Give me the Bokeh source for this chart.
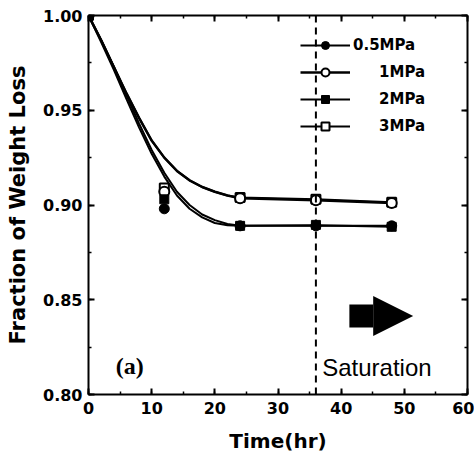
from bokeh.plotting import figure
from bokeh.models import (LinearAxis, Range1d, Span, Label, Arrow, NormalHead,
                          Legend, LegendItem, SingleIntervalTicker, NumeralTickFormatter,
                          CustomJSTickFormatter)
from bokeh.embed import file_html
from bokeh.resources import INLINE

# ---- measured data -------------------------------------------------------
time_hr = [0, 12, 24, 36, 48]
frac_05MPa = [1.000, 0.898, 0.889, 0.889, 0.889]
frac_1MPa = [1.000, 0.907, 0.9035, 0.9025, 0.901]
frac_2MPa = [1.000, 0.903, 0.889, 0.8895, 0.8885]
frac_3MPa = [1.000, 0.909, 0.904, 0.903, 0.9015]

# fitted curves
fit_time = [0, 2, 4, 6, 8, 10, 12, 14, 16, 18, 20, 22, 24, 36, 48]
fit_05MPa = [1.000, 0.986, 0.9715, 0.956, 0.941, 0.927, 0.915, 0.905, 0.898, 0.8935, 0.8905, 0.8893, 0.889, 0.889, 0.889]
fit_1MPa = [1.000, 0.987, 0.973, 0.959, 0.946, 0.934, 0.925, 0.918, 0.913, 0.9095, 0.907, 0.905, 0.9035, 0.9025, 0.901]
fit_2MPa = [1.000, 0.987, 0.973, 0.958, 0.943, 0.929, 0.917, 0.907, 0.900, 0.895, 0.892, 0.890, 0.889, 0.8893, 0.8885]
fit_3MPa = [1.000, 0.987, 0.973, 0.959, 0.946, 0.934, 0.925, 0.918, 0.913, 0.9095, 0.907, 0.905, 0.904, 0.903, 0.9015]

series_labels = ["0.5MPa", "\u00a0\u00a0\u00a0\u00a0\u00a01MPa", "\u00a0\u00a0\u00a0\u00a0\u00a02MPa", "\u00a0\u00a0\u00a0\u00a0\u00a03MPa"]

saturation_time = 36
arrow_x_start, arrow_x_end, arrow_y = 41.3, 51.4, 0.8414
saturation_text_x, saturation_text_y = 37.0, 0.8143
panel_text_x, panel_text_y = 4.3, 0.8153

# ---- figure --------------------------------------------------------------
p = figure(width=474, height=460, x_range=Range1d(0, 60), y_range=Range1d(0.80, 1.00),
           output_backend="svg", toolbar_location=None,
           min_border_left=88, min_border_right=7, min_border_top=15, min_border_bottom=66)
p.xgrid.visible = False
p.ygrid.visible = False
p.outline_line_color = None
p.background_fill_color = "white"
p.border_fill_color = "white"

BOLD = "DejaVu Sans"

def style_axis(ax, ticker, show_labels):
    ax.ticker = ticker
    ax.axis_line_width = 2
    ax.axis_line_color = "black"
    ax.major_tick_in = 6
    ax.major_tick_out = 0
    ax.minor_tick_in = 3
    ax.minor_tick_out = 0
    ax.major_tick_line_width = 2
    ax.minor_tick_line_width = 1.5
    ax.major_tick_line_color = "black"
    ax.minor_tick_line_color = "black"
    if show_labels:
        ax.major_label_text_font = BOLD
        ax.major_label_text_font_style = "bold"
        ax.major_label_text_font_size = "16px"
        ax.major_label_text_color = "black"
    else:
        ax.formatter = CustomJSTickFormatter(code="return ''")
        ax.major_label_standoff = 0

xt = SingleIntervalTicker(interval=10, num_minor_ticks=2)
yt = SingleIntervalTicker(interval=0.05, num_minor_ticks=2)

xa = p.xaxis[0]
style_axis(xa, xt, True)
xa.major_label_standoff = 7
xa.axis_label = "Time(hr)"
xa.axis_label_text_font = BOLD
xa.axis_label_text_font_style = "bold"
xa.axis_label_text_font_size = "20px"
xa.axis_label_text_color = "black"
xa.axis_label_standoff = 12

ya = p.yaxis[0]
style_axis(ya, yt, True)
ya.formatter = NumeralTickFormatter(format="0.00")
ya.major_label_standoff = 6
ya.axis_label = "Fraction of Weight Loss"
ya.axis_label_text_font = BOLD
ya.axis_label_text_font_style = "bold"
ya.axis_label_text_font_size = "21px"
ya.axis_label_text_color = "black"
ya.axis_label_standoff = 10

top = LinearAxis()
style_axis(top, SingleIntervalTicker(interval=10, num_minor_ticks=2), False)
p.add_layout(top, "above")
right = LinearAxis()
style_axis(right, SingleIntervalTicker(interval=0.05, num_minor_ticks=2), False)
p.add_layout(right, "right")

# ---- curves --------------------------------------------------------------
l3 = p.line(fit_time, fit_3MPa, line_color="black", line_width=2)
l1 = p.line(fit_time, fit_1MPa, line_color="black", line_width=2.5)
l2 = p.line(fit_time, fit_2MPa, line_color="black", line_width=2)
l05 = p.line(fit_time, fit_05MPa, line_color="black", line_width=2)

s3 = p.scatter(time_hr, frac_3MPa, marker="square", size=9, fill_color="white",
               line_color="black", line_width=2)
s1 = p.scatter(time_hr, frac_1MPa, marker="circle", size=10, fill_color="white",
               line_color="black", line_width=2)
s2 = p.scatter(time_hr, frac_2MPa, marker="square", size=9, fill_color="black",
               line_color="black", line_width=1)
s05 = p.scatter(time_hr, frac_05MPa, marker="circle", size=10, fill_color="black",
                line_color="black", line_width=1)

# ---- annotations ---------------------------------------------------------
p.add_layout(Span(location=saturation_time, dimension="height", line_color="black",
                  line_width=2, line_dash="7 5"))

p.add_layout(Arrow(end=NormalHead(size=40, fill_color="black", line_color="black", line_width=0),
                   x_start=arrow_x_start, y_start=arrow_y, x_end=arrow_x_end, y_end=arrow_y,
                   line_width=23, line_color="black", line_cap="butt"))

p.add_layout(Label(x=saturation_text_x, y=saturation_text_y, text="Saturation",
                   text_font="Liberation Sans", text_font_size="24px",
                   text_baseline="alphabetic", text_color="black"))
p.add_layout(Label(x=panel_text_x, y=panel_text_y, text="(a)",
                   text_font="Liberation Serif", text_font_style="bold", text_font_size="24px",
                   text_baseline="alphabetic", text_color="black"))

# ---- legend --------------------------------------------------------------
legend = Legend(items=[
    LegendItem(label=series_labels[0], renderers=[l05, s05]),
    LegendItem(label=series_labels[1], renderers=[l1, s1]),
    LegendItem(label=series_labels[2], renderers=[l2, s2]),
    LegendItem(label=series_labels[3], renderers=[l3, s3]),
], location=(212, 258), padding=0, margin=0, border_line_color=None,
   background_fill_alpha=0, glyph_width=50, glyph_height=20, label_height=20,
   spacing=7, label_standoff=3, label_text_font=BOLD, label_text_font_style="bold",
   label_text_font_size="15px", label_text_color="black")
p.add_layout(legend, "center")

open("out.html", "w").write(file_html(p, INLINE))
